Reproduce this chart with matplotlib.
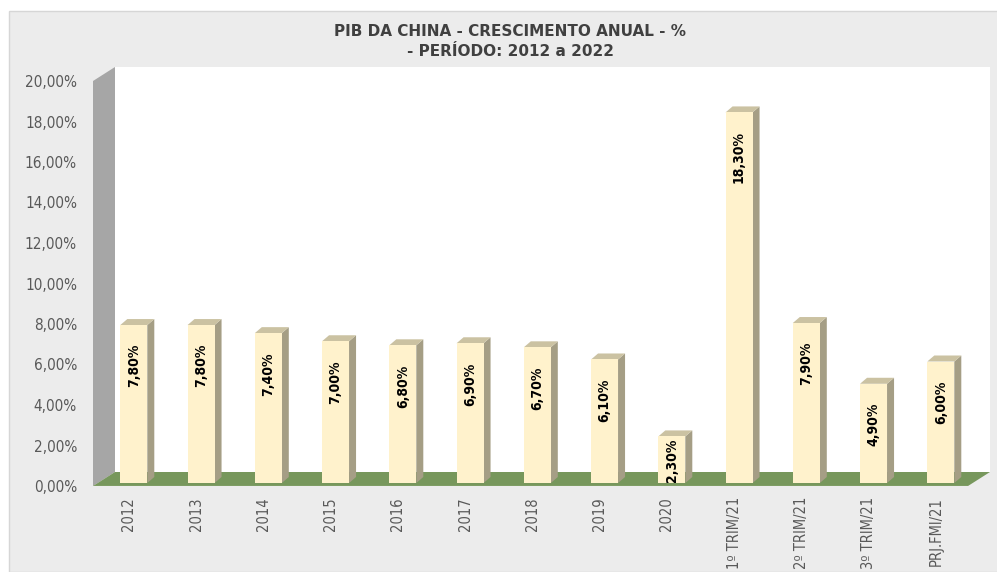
import matplotlib
matplotlib.use("Agg")
from matplotlib import pyplot as plt
from matplotlib.patches import Polygon, Rectangle
import numpy as np

# data
categories = ["2012", "2013", "2014", "2015", "2016", "2017", "2018", "2019",
              "2020", "1º TRIM/21", "2º TRIM/21", "3º TRIM/21", "PRJ.FMI/21"]
growth = [7.8, 7.8, 7.4, 7.0, 6.8, 6.9, 6.7, 6.1, 2.3, 18.3, 7.9, 4.9, 6.0]
yticks = [0, 2, 4, 6, 8, 10, 12, 14, 16, 18, 20]
title = "PIB DA CHINA - CRESCIMENTO ANUAL - %\n- PERÍODO: 2012 a 2022"

front_c = "#fff2cc"
side_c = "#a59e85"
top_c = "#cbc2a2"
floor_c = "#77975c"
wall_c = "#a6a6a6"
panel_c = "#ececec"
narrow = dict(family="DejaVu Sans", fontstretch="condensed")

W, H = 997, 572
fig = plt.figure(figsize=(W / 100, H / 100), dpi=100)
fig.patch.set_facecolor("white")

# outer panel
fig.patches.append(Rectangle((9 / W, 0), 1, 1 - 11 / H, transform=fig.transFigure,
                             facecolor=panel_c, edgecolor="#d6d6d6", lw=1, zorder=-10))

# axes mapped so the front plane matches the picture (pixels)
px_l, px_r, px_top, px_bot = 93, 990, 67, 486
ax = fig.add_axes([px_l / W, 1 - px_bot / H, (px_r - px_l) / W, (px_bot - px_top) / H])
ax.set_facecolor("none")
x_per_px = 1 / 67.25
y_per_px = 1 / 20.25
x0 = -(128.8 - px_l) * x_per_px
x1 = x0 + (px_r - px_l) * x_per_px
ax.set_xlim(x0, x1)
ax.set_ylim(0, (px_bot - px_top) * y_per_px)

fdx, fdy = 22 * x_per_px, 14 * y_per_px       # floor / wall depth
x_fr = x1 - fdx
ymax = 20

# back wall, side wall, floor
ax.add_patch(Rectangle((x0 + fdx, fdy), x_fr - x0, ymax + 0.05, facecolor="white",
                       edgecolor="none", zorder=0))
ax.add_patch(Polygon([(x0, 0), (x0, ymax), (x0 + fdx, ymax + fdy), (x0 + fdx, fdy)],
                     closed=True, facecolor=wall_c, edgecolor="none", zorder=1))
ax.add_patch(Polygon([(x0, 0), (x_fr, 0), (x1, fdy), (x0 + fdx, fdy)],
                     closed=True, facecolor=floor_c, edgecolor="none", zorder=1))
ax.plot([x0, x_fr], [0, 0], color="#9fb887", lw=1, zorder=1.5, solid_capstyle="butt")

# bars with 3d faces
idx = np.arange(len(categories))
bw = 27 * x_per_px
bdx, bdy = 5 * x_per_px, 3 * y_per_px
ddx, ddy = 7 * x_per_px, 6 * y_per_px
cx = idx + bdx
ax.bar(cx, growth, width=bw, bottom=bdy, color=front_c, edgecolor="none", zorder=3)
for c, v in zip(cx, growth):
    xl, xr, top = c - bw / 2, c + bw / 2, bdy + v
    ax.add_patch(Polygon([(xr, bdy), (xr + ddx, bdy + ddy), (xr + ddx, top + ddy), (xr, top)],
                         closed=True, facecolor=side_c, edgecolor="none", zorder=2.5))
    ax.add_patch(Polygon([(xl, top), (xr, top), (xr + ddx, top + ddy), (xl + ddx, top + ddy)],
                         closed=True, facecolor=top_c, edgecolor="none", zorder=2.5))
    gap = min(19, max(2, v / y_per_px - 44))
    ax.annotate(f"{v:.2f}%".replace(".", ","), (c, top), xytext=(0, -gap * 0.72),
                textcoords="offset points", rotation=90, ha="center", va="top",
                fontsize=10, fontweight="bold", color="black", zorder=4, **narrow)

# axes text
ax.set_yticks(yticks)
ax.set_yticklabels([f"{t:.2f}%".replace(".", ",") for t in yticks],
                   fontsize=11, color="#595959", **narrow)
ax.set_xticks(idx)
ax.set_xticklabels(categories, rotation=90, fontsize=10.5, color="#595959", **narrow)
ax.tick_params(axis="y", length=0, pad=11.5)
ax.tick_params(axis="x", length=0, pad=8)
for s in ax.spines.values():
    s.set_visible(False)

fig.text(510 / W, 1 - 41.5 / H, title, ha="center", va="center", fontsize=11,
         fontweight="bold", color="#404040", linespacing=1.4, family="DejaVu Sans")

fig.savefig("out.png", dpi=100)
